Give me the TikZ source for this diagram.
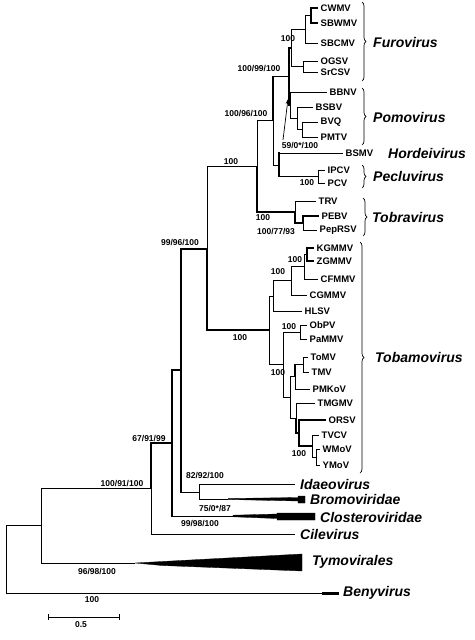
\documentclass[tikz,border=0pt]{standalone}
\usepackage{fontspec}
\setmainfont{Liberation Sans}
\usetikzlibrary{decorations.pathreplacing,arrows.meta}
\newcommand\tleaf[4]{\coordinate (#1) at (#2,#3); \node[leaf] (#1-t) at ([xshift=2.5pt]#1) {#4};}
\begin{document}
\begin{tikzpicture}[x=1pt,y=-1pt,
  br/.style={line width=0.9pt},
  tk/.style={line width=1.9pt},
  leaf/.style={anchor=west,inner sep=0pt,font=\fontsize{9.5}{10}\selectfont\bfseries},
  bs/.style={inner sep=0pt,font=\fontsize{8.5}{9}\selectfont\bfseries},
  genus/.style={anchor=west,inner sep=0pt,font=\fontsize{14}{15}\selectfont\bfseries\itshape},
  brc/.style={decorate,decoration={brace,amplitude=4pt},line width=0.7pt},
  wedge/.style={fill=black,draw=black,line width=0.3pt}]
\useasboundingbox (0,0) rectangle (474,640);
% internal nodes
\coordinate (R) at (6,559.4);
\coordinate (n41) at (41,525.8);
\coordinate (n151) at (151,488.5);
\coordinate (n172) at (172,443);
\coordinate (n181) at (181,370.3);
\coordinate (n199) at (199,492);
\coordinate (n207) at (207,248.7);
\coordinate (n257) at (257,166.4);
\coordinate (n273) at (273,120.8);
\coordinate (nFP) at (289,76.5);
\coordinate (nFu) at (291,48);
\coordinate (nb) at (305,29);
\coordinate (na) at (311,15.5);
\coordinate (nc) at (303,66.5);
\coordinate (nPo) at (290,105);
\coordinate (nBS) at (297,118);
\coordinate (nBP) at (302,129.5);
\coordinate (nHP) at (279,165);
\coordinate (nPe) at (318,176.5);
\coordinate (nTr) at (295,212);
\coordinate (nPE) at (303,223);
\coordinate (nTb) at (269,330.3);
\coordinate (g1) at (273,296);
\coordinate (nCG) at (291,280.9);
\coordinate (nCF) at (304,266.7);
\coordinate (nKZ) at (307,254.5);
\coordinate (g2) at (283,364.7);
\coordinate (nOP) at (300,332);
\coordinate (nS) at (290,397.4);
\coordinate (nTP) at (295,376.7);
\coordinate (nTT) at (303,364.5);
\coordinate (nTM) at (296,418);
\coordinate (nOR) at (299,433);
\coordinate (nTV) at (312,446);
\coordinate (nWY) at (316,457);
% leaves
\tleaf{CWMV}{318}{8}{CWMV}
\tleaf{SBWMV}{318}{23}{SBWMV}
\tleaf{SBCMV}{318}{43}{SBCMV}
\tleaf{OGSV}{318}{61}{OGSV}
\tleaf{SrCSV}{318}{72}{SrCSV}
\tleaf{BBNV}{327}{92}{BBNV}
\tleaf{BSBV}{313}{107}{BSBV}
\tleaf{BVQ}{318}{122}{BVQ}
\tleaf{PMTV}{318}{137}{PMTV}
\tleaf{BSMV}{343}{153}{BSMV}
\tleaf{IPCV}{325}{170}{IPCV}
\tleaf{PCV}{325}{183}{PCV}
\tleaf{TRV}{316}{201}{TRV}
\tleaf{PEBV}{319}{216}{PEBV}
\tleaf{PepRSV}{317}{230}{PepRSV}
\tleaf{KGMMV}{314}{248}{KGMMV}
\tleaf{ZGMMV}{314}{261}{ZGMMV}
\tleaf{CFMMV}{318}{279}{CFMMV}
\tleaf{CGMMV}{307}{295}{CGMMV}
\tleaf{HLSV}{302}{311}{HLSV}
\tleaf{ObPV}{307}{325}{ObPV}
\tleaf{PaMMV}{307}{339}{PaMMV}
\tleaf{ToMV}{308}{357}{ToMV}
\tleaf{TMV}{309}{372}{TMV}
\tleaf{PMKoV}{310}{389}{PMKoV}
\tleaf{TMGMV}{315}{403}{TMGMV}
\tleaf{ORSV}{326}{420}{ORSV}
\tleaf{TVCV}{319}{435}{TVCV}
\tleaf{WMoV}{320}{449}{WMoV}
\tleaf{YMoV}{320}{465}{YMoV}
% collapsed clades
\coordinate (ida) at (295,484);
\coordinate (bro) at (228,499);
\coordinate (clo) at (233,516);
\coordinate (cil) at (295,534);
\coordinate (tym) at (135,563);
\coordinate (ben) at (322,593);
% branches
\draw[br] (R) |- (n41); \draw[br] (R) |- (ben);
\draw[br] (n41) |- (n151); \draw[br] (n41) |- (tym);
\draw[tk] (n151) |- (n172); \draw[br] (n151) |- (cil);
\draw[tk] (n172) |- (n181); \draw[tk] (n172) |- ([xshift=1pt]n172 |- clo); \draw[br] (n172 |- clo) -- (clo);
\draw[tk] (n181) |- (n207); \draw[tk] (n181) |- ([xshift=1pt]n181 |- n199); \draw[br] (n181 |- n199) -- (n199);
\draw[br] (n199) |- (ida); \draw[br] (n199) |- (bro);
\draw[br] (n207) |- (n257); \draw[tk] (n207) |- (nTb);
\draw[br] (n257) |- (n273); \draw[tk] (n257) |- (nTr);
\draw[tk] (n273) |- (nFP); \draw[br] (n273) |- (nHP);
\draw[tk] (nFP) |- (nFu); \draw[tk] (nFP) |- (nPo);
\draw[br] (nFu) |- (nb); \draw[br] (nFu) |- (nc);
\draw[br] (nb) |- (na); \draw[br] (nb) |- (SBCMV);
\draw[tk] (na) |- (CWMV); \draw[tk] (na) |- (SBWMV);
\draw[br] (nc) |- (OGSV); \draw[br] (nc) |- (SrCSV);
\draw[br] (nPo) |- (BBNV); \draw[br] (nPo) |- (nBS);
\draw[br] (nBS) |- (BSBV); \draw[br] (nBS) |- (nBP);
\draw[br] (nBP) |- (BVQ); \draw[br] (nBP) |- (PMTV);
\draw[tk] (nHP) |- ([xshift=1pt]nHP |- BSMV); \draw[br] (nHP |- BSMV) -- (BSMV); \draw[tk] (nHP) |- (nPe);
\draw[br] (nPe) |- (IPCV); \draw[br] (nPe) |- (PCV);
\draw[br] (nTr) |- (TRV); \draw[tk] (nTr) |- (nPE);
\draw[tk] (nPE) |- (PEBV); \draw[br] (nPE) |- (PepRSV);
\draw[br] (nTb) |- (g1); \draw[br] (nTb) |- (g2);
\draw[br] (g1) |- (nCG); \draw[br] (g1) |- (HLSV);
\draw[br] (nCG) |- (nCF); \draw[br] (nCG) |- (CGMMV);
\draw[br] (nCF) |- (nKZ); \draw[br] (nCF) |- (CFMMV);
\draw[tk] (nKZ) |- (KGMMV); \draw[tk] (nKZ) |- (ZGMMV);
\draw[br] (g2) |- (nOP); \draw[br] (g2) |- (nS);
\draw[br] (nOP) |- (ObPV); \draw[br] (nOP) |- (PaMMV);
\draw[br] (nS) |- (nTP); \draw[br] (nS) |- (nTM);
\draw[tk] (nTP) |- (nTT); \draw[br] (nTP) |- (PMKoV);
\draw[br] (nTT) |- (ToMV); \draw[br] (nTT) |- (TMV);
\draw[br] (nTM) |- (TMGMV); \draw[tk] (nTM) |- (nOR);
\draw[tk] (nOR) |- (ORSV); \draw[tk] (nOR) |- (nTV);
\draw[br] (nTV) |- (TVCV); \draw[br] (nTV) |- (nWY);
\draw[br] (nWY) |- (WMoV); \draw[br] (nWY) |- (YMoV);
% wedges
\fill[wedge] (tym) -- (162,561.5) -- (302,554) -- (302,571) -- (162,565.5) -- cycle;
\fill[wedge] (clo) ++(0,-0.8) -- (277,514) -- (277,513) -- (315,513) -- (315,520) -- (277,520) -- (277,518.5) -- (233,516.8) -- cycle;
\fill[wedge] (bro) ++(0,-0.5) -- (298,497.5) -- (298,496) -- (305,496) -- (305,503) -- (298,503) -- (298,501) -- (228,499.5) -- cycle;
\fill[wedge] (ben) ++(0,-1.3) rectangle (338,594.3);
% genus labels
\node[genus] (gIda) at (300,484) {Idaeovirus};
\node[genus] (gBro) at (310,499) {Bromoviridae};
\node[genus] (gClo) at (320,517) {Closteroviridae};
\node[genus] (gCil) at (300,534) {Cilevirus};
\node[genus] (gTym) at (312,562) {Tymovirales};
\node[genus] (gBen) at (343,593) {Benyvirus};
\node[genus] (gFur) at (373,42) {Furovirus};
\node[genus] (gPom) at (373,117) {Pomovirus};
\node[genus] (gHor) at (388,153) {Hordeivirus};
\node[genus] (gPec) at (373,176) {Pecluvirus};
\node[genus] (gTob) at (372,217) {Tobravirus};
\node[genus] (gTbm) at (375,357) {Tobamovirus};
% braces
\draw[brc] (362,2) -- (362,81);
\draw[brc] (362,88) -- (362,145);
\draw[brc] (362,165) -- (362,188);
\draw[brc] (363,198) -- (363,236);
\draw[brc] (360,242) -- (360,473);
% bootstrap labels
\node[bs] (b1) at (288,39) {100};
\node[bs] (b2) at (259,69) {100/99/100};
\node[bs] (b3) at (246,114) {100/96/100};
\node[bs] (b4) at (300,146) {59/0*/100};
\node[bs] (b5) at (231,162) {100};
\node[bs] (b6) at (307,183) {100};
\node[bs] (b7) at (263,218) {100};
\node[bs] (b8) at (276,232) {100/77/93};
\node[bs] (b9) at (180,243) {99/96/100};
\node[bs] (b10) at (295,260) {100};
\node[bs] (b11) at (278,272) {100};
\node[bs] (b12) at (289,327) {100};
\node[bs] (b13) at (240,338) {100};
\node[bs] (b14) at (278,373) {100};
\node[bs] (b15) at (299,454) {100};
\node[bs] (b16) at (149,438) {67/91/99};
\node[bs] (b17) at (205,475) {82/92/100};
\node[bs] (b18) at (122,483) {100/91/100};
\node[bs] (b19) at (215,508) {75/0*/87};
\node[bs] (b20) at (200,523) {99/98/100};
\node[bs] (b21) at (97,571) {96/98/100};
\node[bs] (b22) at (92,600) {100};
% arrow to Pomovirus node
\coordinate (arrS) at (283,140);
\coordinate (arrE) at (288,99);
\draw[line width=0.7pt,-{Stealth[length=5pt,width=3.5pt]}] (arrS) -- (arrE);
% scale bar
\coordinate (sb1) at (48,617);
\coordinate (sb2) at (119,617);
\draw[br] (sb1) -- (sb2);
\draw[br] ([yshift=-3pt]sb1) -- ([yshift=3pt]sb1);
\draw[br] ([yshift=-3pt]sb2) -- ([yshift=3pt]sb2);
\node[bs] (sbl) at (81,625) {0.5};
\end{tikzpicture}
\end{document}
